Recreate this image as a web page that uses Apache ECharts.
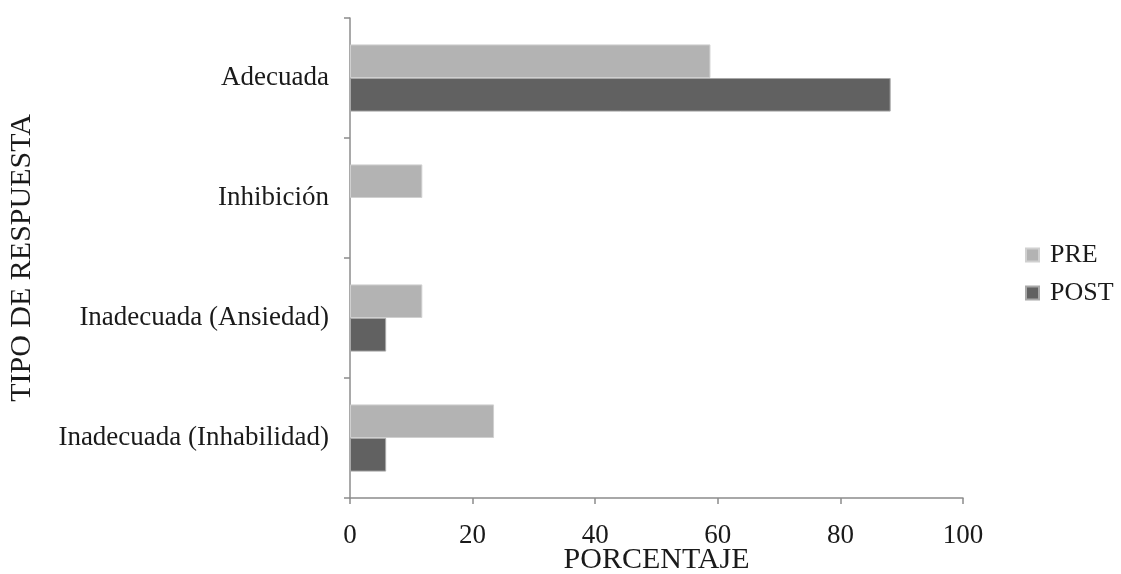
<!DOCTYPE html>
<html>
<head>
<meta charset="utf-8">
<script src="https://cdn.jsdelivr.net/npm/echarts@6/dist/echarts.min.js"></script>
<style>
  html, body { margin: 0; padding: 0; background: #ffffff; }
  #chart { width: 1121px; height: 574px; }
</style>
</head>
<body>
<div id="chart"></div>
<script>
// Response types, top to bottom
const categories = ['Adecuada', 'Inhibición', 'Inadecuada (Ansiedad)', 'Inadecuada (Inhabilidad)'];
// Percentages before and after
const preValues = [58.8, 11.8, 11.8, 23.5];
const postValues = [88.2, 0, 5.9, 5.9];
const xTicks = [0, 20, 40, 60, 80, 100];

const font = '"Liberation Serif", "Times New Roman", serif';
const axisColor = '#8c8c8c';
const textColor = '#1a1a1a';

const chart = echarts.init(document.getElementById('chart'), null, { renderer: 'canvas' });

chart.setOption({
  animation: false,
  backgroundColor: '#ffffff',
  grid: { left: 350, right: 158, top: 18, bottom: 76, containLabel: false, outerBoundsMode: 'none' },
  legend: {
    orient: 'vertical',
    left: 1025,
    top: 242,
    padding: 0,
    itemWidth: 13,
    itemHeight: 13,
    itemGap: 12,
    icon: 'rect',
    textStyle: { fontFamily: font, fontSize: 26, color: textColor, padding: [0, 0, 0, 6] },
    data: ['PRE', 'POST']
  },
  xAxis: {
    type: 'value',
    min: xTicks[0],
    max: xTicks[xTicks.length - 1],
    interval: xTicks[1] - xTicks[0],
    name: 'PORCENTAJE',
    nameLocation: 'middle',
    nameGap: 47,
    nameMoveOverlap: false,
    nameTextStyle: { fontFamily: font, fontSize: 30, color: textColor },
    axisLine: { show: true, lineStyle: { color: axisColor, width: 1.5 } },
    axisTick: { show: true, length: 6, lineStyle: { color: axisColor, width: 1.5 } },
    axisLabel: { fontFamily: font, fontSize: 27, color: textColor, margin: 24 },
    splitLine: { show: false }
  },
  yAxis: {
    type: 'category',
    inverse: true,
    data: categories,
    name: 'TIPO DE RESPUESTA',
    nameLocation: 'middle',
    nameGap: 313,
    nameRotate: 90,
    nameMoveOverlap: false,
    nameTextStyle: { fontFamily: font, fontSize: 30, color: textColor },
    axisLine: { show: true, lineStyle: { color: axisColor, width: 1.5 } },
    axisTick: { show: true, length: 6, lineStyle: { color: axisColor, width: 1.5 } },
    axisLabel: { fontFamily: font, fontSize: 27, color: textColor, margin: 21 },
    splitLine: { show: false }
  },
  series: [
    {
      name: 'PRE',
      type: 'bar',
      data: preValues,
      barGap: '0%',
      barCategoryGap: '44%',
      itemStyle: { color: '#b3b3b3', borderColor: '#d0d0d0', borderWidth: 1 }
    },
    {
      name: 'POST',
      type: 'bar',
      data: postValues,
      barGap: '0%',
      barCategoryGap: '44%',
      itemStyle: { color: '#616161', borderColor: '#a8a8a8', borderWidth: 1 }
    }
  ]
});
</script>
</body>
</html>
